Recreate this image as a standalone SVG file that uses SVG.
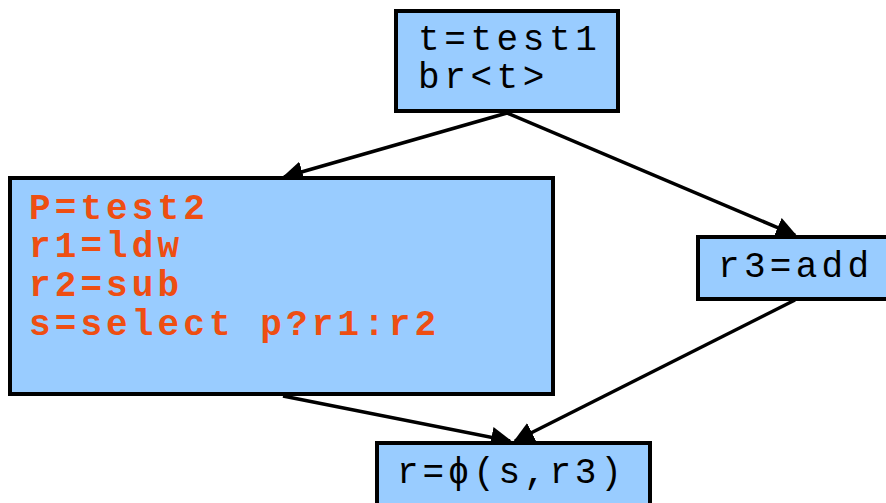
<svg xmlns="http://www.w3.org/2000/svg" width="886" height="503" viewBox="0 0 886 503">
  <style>
    .box { fill: #99CCFF; stroke: #000; stroke-width: 4; }
    .code { font-family: "Liberation Mono", "DejaVu Sans Mono", monospace; font-size: 36px; fill: #000; }
    .hot { font-family: "Liberation Mono", "DejaVu Sans Mono", monospace; font-size: 36px; font-weight: bold; fill: #EE4E12; letter-spacing: 4.1px; }
    .edge { stroke: #000; stroke-width: 3.5; fill: none; marker-end: url(#arrow); }
  </style>
  <defs>
    <marker id="arrow" viewBox="0 0 10 10" refX="9" refY="5" markerWidth="6" markerHeight="6" markerUnits="strokeWidth" orient="auto">
      <path d="M0,0 L10,5 L0,10 Z" fill="#000"/>
    </marker>
  </defs>
  <rect width="886" height="503" fill="#fff"/>

  <g id="connectors">
    <line class="edge" x1="507" y1="113" x2="284" y2="177"/>
    <line class="edge" x1="507" y1="113" x2="795" y2="235"/>
    <line class="edge" x1="283" y1="396" x2="510" y2="441"/>
    <line class="edge" x1="795" y1="300" x2="515" y2="441"/>
  </g>

  <g id="entry">
    <rect class="box" x="396" y="11" width="222" height="100"/>
    <text class="code" x="418" y="50" font-size="32" letter-spacing="4.6">t=test1</text>
    <text class="code" x="418" y="88" font-size="32" letter-spacing="4.6">br&lt;t&gt;</text>
  </g>

  <g id="then-block">
    <rect class="box" x="10" y="178" width="543" height="216"/>
    <text class="hot" x="29" y="219">P=test2</text>
    <text class="hot" x="29" y="257">r1=ldw</text>
    <text class="hot" x="29" y="296">r2=sub</text>
    <text class="hot" x="29" y="335">s=select p?r1:r2</text>
  </g>

  <g id="else-block">
    <rect class="box" x="698" y="237" width="190" height="62"/>
    <text class="code" x="718" y="277" letter-spacing="4.3">r3=add</text>
  </g>

  <g id="join">
    <rect class="box" x="377" y="443" width="273" height="70"/>
    <text class="code" x="397" y="483" letter-spacing="3.8">r=ϕ(s,r3)</text>
  </g>
</svg>
